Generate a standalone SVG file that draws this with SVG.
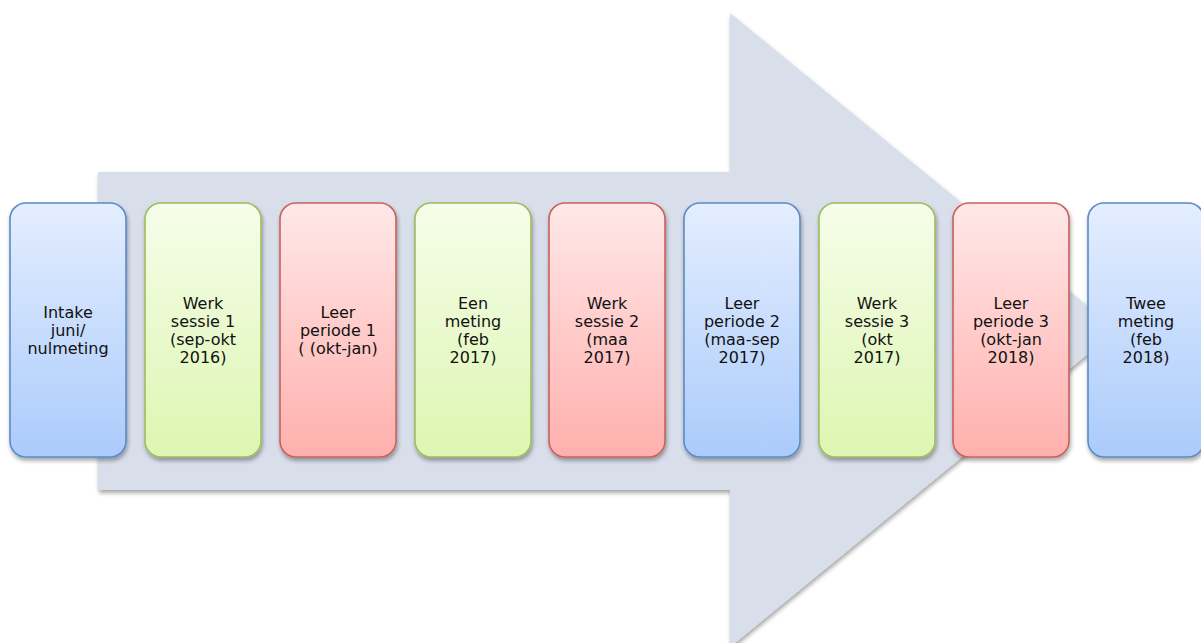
<svg xmlns="http://www.w3.org/2000/svg" width="1201" height="643" viewBox="0 0 1201 643">
<defs>
<linearGradient id="gBlue" x1="0" y1="0" x2="0" y2="1"><stop offset="0" stop-color="#e4eeff"/><stop offset="1" stop-color="#abcbfb"/></linearGradient>
<linearGradient id="gGreen" x1="0" y1="0" x2="0" y2="1"><stop offset="0" stop-color="#f6fdea"/><stop offset="1" stop-color="#ddf6b1"/></linearGradient>
<linearGradient id="gRed" x1="0" y1="0" x2="0" y2="1"><stop offset="0" stop-color="#ffe8e8"/><stop offset="1" stop-color="#ffb0ad"/></linearGradient>
<filter id="sh" x="-10%" y="-10%" width="125%" height="125%"><feGaussianBlur in="SourceAlpha" stdDeviation="2"/><feOffset dx="1" dy="3"/><feComponentTransfer><feFuncA type="linear" slope="0.35"/></feComponentTransfer><feMerge><feMergeNode/><feMergeNode in="SourceGraphic"/></feMerge></filter>
</defs>
<style>
.blue{fill:url(#gBlue);stroke:#5a8bc6;stroke-width:1.6}
.green{fill:url(#gGreen);stroke:#9dbd5e;stroke-width:1.6}
.red{fill:url(#gRed);stroke:#c9605d;stroke-width:1.6}
text{font-family:"DejaVu Sans",sans-serif;font-size:16px;fill:#111;text-anchor:middle}
</style>
<rect width="1201" height="643" fill="#ffffff"/>
<g id="arrow" filter="url(#sh)">
<polygon points="98,172 730,172 730,13 1117,330 730,647 730,490 98,490" fill="#d9deeb"/>
</g>
<g id="connectors"></g>
<g id="n1"><rect class="blue" x="10" y="203" width="116" height="254" rx="16" filter="url(#sh)"/><text x="68" y="318">Intake</text><text x="68" y="336">juni/</text><text x="68" y="354">nulmeting</text></g>
<g id="n2"><rect class="green" x="145" y="203" width="116" height="254" rx="16" filter="url(#sh)"/><text x="203" y="309">Werk</text><text x="203" y="327">sessie 1</text><text x="203" y="345">(sep-okt</text><text x="203" y="363">2016)</text></g>
<g id="n3"><rect class="red" x="280" y="203" width="116" height="254" rx="16" filter="url(#sh)"/><text x="338" y="318">Leer</text><text x="338" y="336">periode 1</text><text x="338" y="354">( (okt-jan)</text></g>
<g id="n4"><rect class="green" x="415" y="203" width="116" height="254" rx="16" filter="url(#sh)"/><text x="473" y="309">Een</text><text x="473" y="327">meting</text><text x="473" y="345">(feb</text><text x="473" y="363">2017)</text></g>
<g id="n5"><rect class="red" x="549" y="203" width="116" height="254" rx="16" filter="url(#sh)"/><text x="607" y="309">Werk</text><text x="607" y="327">sessie 2</text><text x="607" y="345">(maa</text><text x="607" y="363">2017)</text></g>
<g id="n6"><rect class="blue" x="684" y="203" width="116" height="254" rx="16" filter="url(#sh)"/><text x="742" y="309">Leer</text><text x="742" y="327">periode 2</text><text x="742" y="345">(maa-sep</text><text x="742" y="363">2017)</text></g>
<g id="n7"><rect class="green" x="819" y="203" width="116" height="254" rx="16" filter="url(#sh)"/><text x="877" y="309">Werk</text><text x="877" y="327">sessie 3</text><text x="877" y="345">(okt</text><text x="877" y="363">2017)</text></g>
<g id="n8"><rect class="red" x="953" y="203" width="116" height="254" rx="16" filter="url(#sh)"/><text x="1011" y="309">Leer</text><text x="1011" y="327">periode 3</text><text x="1011" y="345">(okt-jan</text><text x="1011" y="363">2018)</text></g>
<g id="n9"><rect class="blue" x="1088" y="203" width="116" height="254" rx="16" filter="url(#sh)"/><text x="1146" y="309">Twee</text><text x="1146" y="327">meting</text><text x="1146" y="345">(feb</text><text x="1146" y="363">2018)</text></g>
</svg>
